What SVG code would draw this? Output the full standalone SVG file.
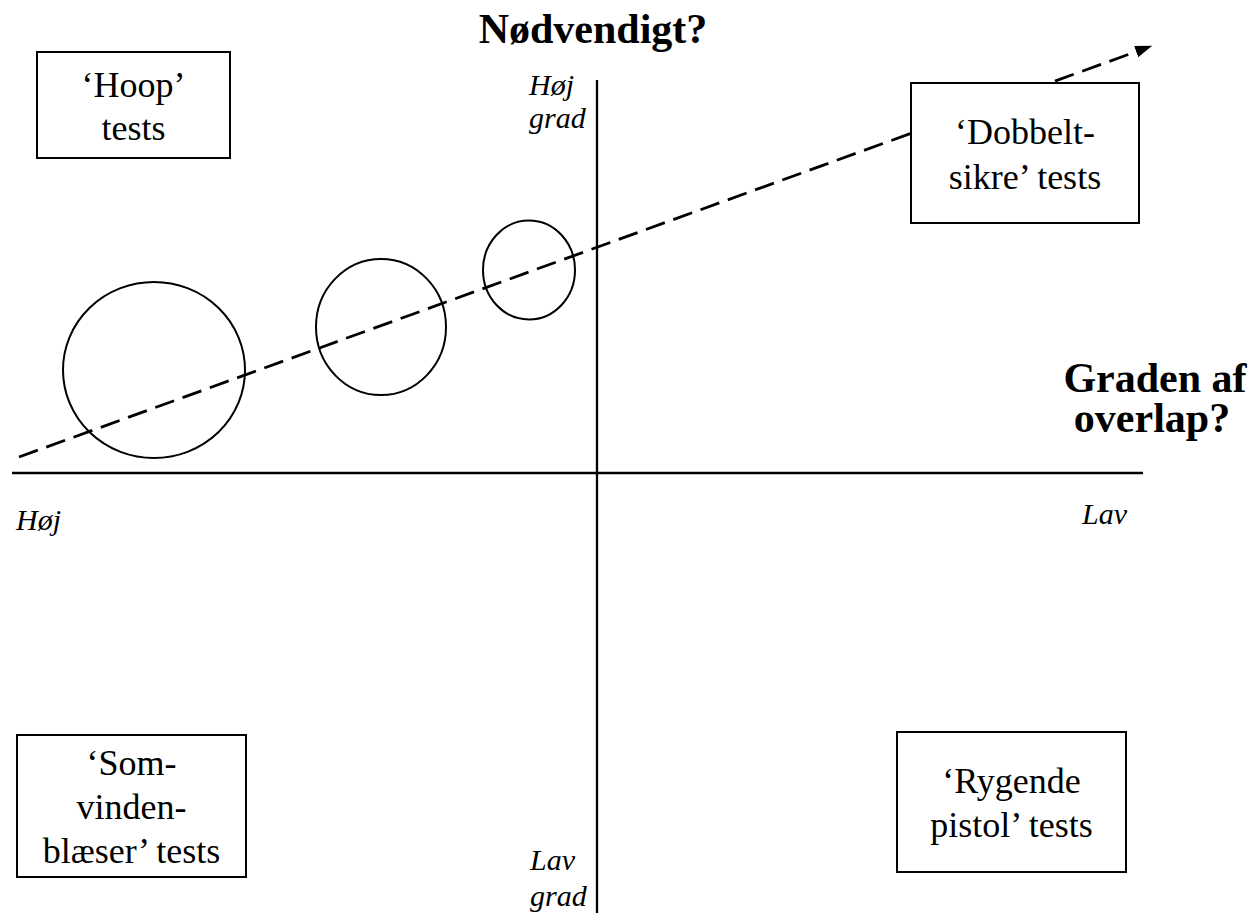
<svg xmlns="http://www.w3.org/2000/svg" width="1254" height="915" viewBox="0 0 1254 915">
<style>
.bx{fill:#fff;stroke:#000;stroke-width:2}
.t{font-family:"Liberation Serif","Times New Roman",serif;font-size:36px;fill:#000;text-anchor:middle}
.b{font-family:"Liberation Serif","Times New Roman",serif;font-size:42px;font-weight:bold;fill:#000;text-anchor:middle}
.i{font-family:"Liberation Serif","Times New Roman",serif;font-size:30px;font-style:italic;fill:#000}
.ax{stroke:#000;stroke-width:2.3;fill:none}
.ring{stroke:#000;stroke-width:2;fill:none}
</style>
<defs>
<marker id="ah" markerUnits="userSpaceOnUse" markerWidth="20" markerHeight="14" refX="8" refY="6" orient="auto">
<path d="M0,0 L17,6 L0,12 z" fill="#000"/>
</marker>
</defs>
<rect width="1254" height="915" fill="#fff"/>
<g id="axes">
<line class="ax" x1="597" y1="80" x2="597" y2="913"/>
<line class="ax" x1="12" y1="473" x2="1143" y2="473"/>
</g>
<g id="circles">
<ellipse class="ring" cx="154" cy="370" rx="91" ry="88"/>
<ellipse class="ring" cx="381" cy="327" rx="65" ry="68"/>
<ellipse class="ring" cx="529" cy="270" rx="46" ry="49.5"/>
</g>
<g id="connectors">
<line x1="19" y1="457" x2="1143.7" y2="48.9" stroke="#000" stroke-width="2.8" stroke-dasharray="20 9" marker-end="url(#ah)"/>
</g>
<g id="labels">
<text class="b" x="593" y="43">Nødvendigt?</text>
<text class="b" x="1155" y="392">Graden af</text>
<text class="b" x="1152" y="432">overlap?</text>
<text class="i" x="529" y="95">Høj</text>
<text class="i" x="529" y="128">grad</text>
<text class="i" x="16" y="530">Høj</text>
<text class="i" x="1082" y="524">Lav</text>
<text class="i" x="530" y="870">Lav</text>
<text class="i" x="530" y="906">grad</text>
</g>
<g id="hoop">
<rect class="bx" x="37" y="52" width="193" height="106"/>
<text class="t" x="133.5" y="97">‘Hoop’</text>
<text class="t" x="133.5" y="140">tests</text>
</g>
<g id="dobbelt">
<rect class="bx" x="911" y="83" width="228" height="140"/>
<text class="t" x="1025" y="144">‘Dobbelt-</text>
<text class="t" x="1025" y="189">sikre’ tests</text>
</g>
<g id="somvinden">
<rect class="bx" x="17" y="735" width="229" height="142"/>
<text class="t" x="131.5" y="775">‘Som-</text>
<text class="t" x="131.5" y="819">vinden-</text>
<text class="t" x="131.5" y="863">blæser’ tests</text>
</g>
<g id="rygende">
<rect class="bx" x="897" y="732" width="229" height="140"/>
<text class="t" x="1011.5" y="793">‘Rygende</text>
<text class="t" x="1011.5" y="837">pistol’ tests</text>
</g>
</svg>
